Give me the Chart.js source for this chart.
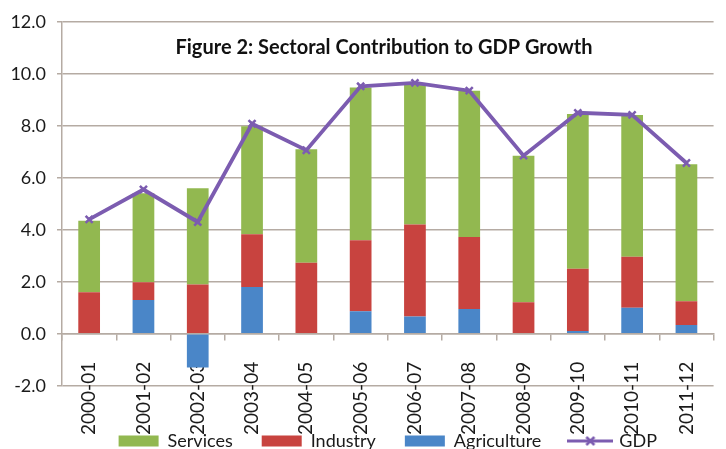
<!DOCTYPE html>
<html>
<head>
<meta charset="utf-8">
<script src="https://cdn.jsdelivr.net/npm/chart.js@4/dist/chart.umd.min.js"></script>
<style>
    html, body { margin: 0; padding: 0; background: #fff; overflow: hidden; }
    #wrap { width: 732px; height: 449px; }
</style>
</head>
<body>
<div id="wrap"><canvas id="sectorChart" width="732" height="449"></canvas></div>
<script>
// values (percentage points)
const years = ['2000-01', '2001-02', '2002-03', '2003-04', '2004-05', '2005-06',
    '2006-07', '2007-08', '2008-09', '2009-10', '2010-11', '2011-12'];
const agriculture = [0.0, 1.3, -1.3, 1.8, 0.0, 0.87, 0.67, 0.95, 0.0, 0.11, 1.0, 0.34];
const industry = [1.6, 0.68, 1.9, 2.03, 2.73, 2.73, 3.53, 2.77, 1.21, 2.39, 1.96, 0.91];
const services = [2.75, 3.43, 3.7, 4.15, 4.37, 5.87, 5.42, 5.63, 5.64, 5.95, 5.46, 5.27];
const gdp = [4.4, 5.55, 4.3, 8.08, 7.06, 9.52, 9.65, 9.35, 6.85, 8.5, 8.42, 6.57];
const yTicks = [-2, 0, 2, 4, 6, 8, 10, 12];

const titleText = 'Figure 2: Sectoral Contribution to GDP Growth';
const legendOrder = ['Services', 'Industry', 'Agriculture', 'GDP'];

const green = '#92b850';
const red = '#c8433f';
const blue = '#4a86c8';
const purple = '#7c5cb0';
const gridColor = '#b5aba3';
const textColor = '#1a1a1a';
const font = 'Lato';

// little line + x marker for the GDP legend entry
function gdpLegendIcon() {
    const c = document.createElement('canvas');
    c.width = 46;
    c.height = 14;
    const g = c.getContext('2d');
    g.strokeStyle = purple;
    g.lineWidth = 3;
    g.beginPath();
    g.moveTo(0, 7);
    g.lineTo(46, 7);
    g.stroke();
    g.lineWidth = 2.5;
    g.beginPath();
    g.moveTo(19, 3); g.lineTo(27, 11);
    g.moveTo(27, 3); g.lineTo(19, 11);
    g.stroke();
    return c;
}
const gdpIcon = gdpLegendIcon();

const chartTitle = {
    id: 'chartTitle',
    afterDraw: (chart) => {
        const {ctx} = chart;
        ctx.save();
        ctx.font = 'bold 20px ' + font;
        ctx.fillStyle = '#111';
        ctx.textAlign = 'center';
        ctx.textBaseline = 'middle';
        ctx.fillText(titleText, 384, 48);
        ctx.restore();
    }
};

const data = {
    labels: years,
    datasets: [
        {
            label: 'Agriculture',
            data: agriculture,
            backgroundColor: blue,
            stack: 'sectors',
            order: 1
        },
        {
            label: 'Industry',
            data: industry,
            backgroundColor: red,
            stack: 'sectors',
            order: 1
        },
        {
            label: 'Services',
            data: services,
            backgroundColor: green,
            stack: 'sectors',
            order: 1
        },
        {
            type: 'line',
            label: 'GDP',
            data: gdp,
            borderColor: purple,
            backgroundColor: purple,
            borderWidth: 3.8,
            pointStyle: 'crossRot',
            pointRadius: 5,
            pointBorderWidth: 2.5,
            pointBorderColor: purple,
            tension: 0,
            stack: 'gdp',
            order: 0
        }
    ]
};

let options = {
    responsive: false,
    animation: false,
    layout: {
        padding: {top: 18, bottom: -11, left: 0, right: 0}
    },
    datasets: {
        bar: {
            barPercentage: 0.4,
            categoryPercentage: 1.0
        }
    },
    plugins: {
        tooltip: {enabled: false},
        legend: {
            position: 'bottom',
            fullSize: false,
            title: {
                display: true,
                text: '',
                font: {size: 1},
                padding: {top: 16, bottom: 0}
            },
            labels: {
                usePointStyle: true,
                pointStyleWidth: 40,
                boxHeight: 11,
                padding: 29,
                color: textColor,
                font: {family: font, size: 18},
                generateLabels: (chart) => {
                    const items = Chart.defaults.plugins.legend.labels.generateLabels(chart);
                    items.forEach(item => {
                        if (item.text === 'GDP') {
                            item.pointStyle = gdpIcon;
                        } else {
                            item.pointStyle = 'rect';
                            item.lineWidth = 0;
                        }
                    });
                    return items.sort((a, b) => legendOrder.indexOf(a.text) - legendOrder.indexOf(b.text));
                }
            }
        }
    },
    scales: {
        x: {
            stacked: true,
            position: {y: 0},
            z: 1, // labels sit over the negative bar, as in the original
            grid: {
                drawOnChartArea: false,
                offset: true,
                tickLength: 6,
                color: gridColor,
                lineWidth: 1.5
            },
            border: {color: gridColor, width: 1.5},
            ticks: {
                autoSkip: false,
                minRotation: 90,
                maxRotation: 90,
                padding: 22,
                color: textColor,
                font: {family: font, size: 19}
            }
        },
        y: {
            stacked: true,
            min: yTicks[0],
            max: yTicks[yTicks.length - 1],
            afterFit: (scale) => { scale.width = 62; },
            afterBuildTicks: (scale) => { scale.ticks = yTicks.map(v => ({value: v})); },
            grid: {
                color: gridColor,
                lineWidth: 1.5,
                tickLength: 5
            },
            border: {color: gridColor, width: 1.5},
            ticks: {
                padding: 11,
                color: textColor,
                font: {family: font, size: 18},
                callback: (v) => v.toFixed(1)
            }
        }
    }
};

let ctx = document.getElementById('sectorChart').getContext('2d');

let sectorChart = new Chart(
    ctx,
    {
        type: 'bar',
        data: data,
        options: options,
        plugins: [chartTitle]
    }
);
</script>
</body>
</html>
